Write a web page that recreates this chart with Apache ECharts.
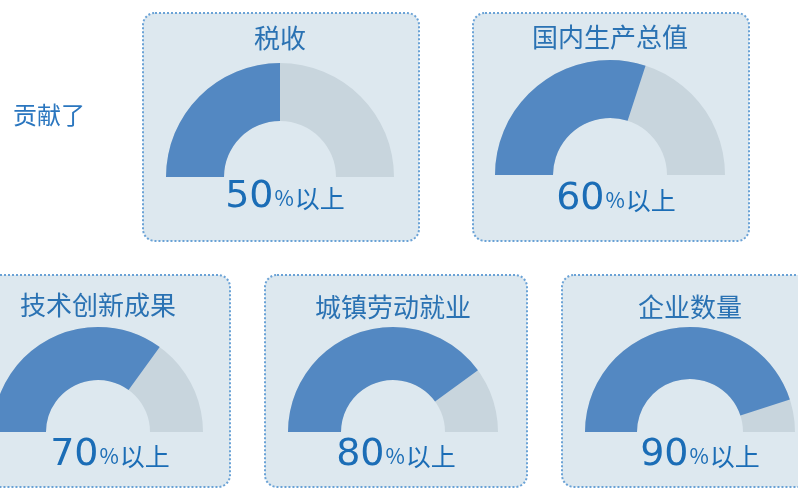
<!DOCTYPE html>
<html>
<head>
<meta charset="utf-8">
<script src="https://cdn.jsdelivr.net/npm/echarts@6/dist/echarts.min.js"></script>
<style>
  html, body { margin:0; padding:0; background:#fff; }
  #chart { width:798px; height:496px; }
</style>
</head>
<body>
<div id="chart"></div>
<script>
// ===== Data =====
const categories = ['税收', '国内生产总值', '技术创新成果', '城镇劳动就业', '企业数量'];
const shares = [50, 60, 70, 80, 90];
const suffix = '以上';
const leadText = '贡献了';

// ===== Layout (box rect, gauge center, radii, text offsets) =====
const layout = [
  { box:[143, 13, 276, 228], c:[280, 177], R:114, r:56, ty:-139, dy:22, dx:5 },
  { box:[473, 13, 276, 228], c:[610, 175], R:115, r:57, ty:-138, dy:26, dx:6 },
  { box:[-32, 275, 262, 212], c:[98, 432],  R:105, r:52, ty:-127, dy:25, dx:12 },
  { box:[265, 275, 262, 212], c:[393, 432], R:105, r:52, ty:-125, dy:25, dx:3 },
  { box:[562, 275, 262, 212], c:[690, 432], R:105, r:53, ty:-125, dy:25, dx:10 }
];

const BLUE = '#5388c2';
const GRAY = '#c8d5dd';
const TXT = '#1b6db6';
const FONT = '"Noto Sans CJK SC", "Noto Sans", sans-serif';

const chart = echarts.init(document.getElementById('chart'));

const boxes = layout.map(l => ({
  type: 'rect',
  z: 0,
  shape: { x: l.box[0], y: l.box[1], width: l.box[2], height: l.box[3], r: 12 },
  style: { fill: '#dde8ef', stroke: '#6aa2d6', lineWidth: 2, lineDash: [2, 2] }
}));

const series = categories.map((name, i) => {
  const l = layout[i];
  return {
    type: 'gauge',
    z: 2,
    center: l.c,
    radius: l.R,
    startAngle: 180,
    endAngle: 0,
    min: 0,
    max: 100,
    pointer: { show: false },
    anchor: { show: false },
    axisTick: { show: false },
    splitLine: { show: false },
    axisLabel: { show: false },
    axisLine: { lineStyle: { width: l.R - l.r, color: [[1, GRAY]] } },
    progress: { show: true, width: l.R - l.r, itemStyle: { color: BLUE } },
    title: {
      offsetCenter: [0, l.ty],
      fontSize: 26,
      fontFamily: FONT,
      color: '#2a72b3'
    },
    detail: {
      offsetCenter: [l.dx, l.dy],
      valueAnimation: false,
      formatter: v => `{n|${v}}{p|%}{t|${suffix}}`,
      rich: {
        n: { fontSize: 38, fontWeight: 'normal', fontFamily: '"DejaVu Sans", sans-serif', color: TXT, verticalAlign: 'bottom', padding: [0, 0, -2, 0] },
        p: { fontSize: 21, fontWeight: 'normal', fontFamily: FONT, color: TXT, verticalAlign: 'bottom', padding: [0, 1, 5, 1] },
        t: { fontSize: 25, fontWeight: 'normal', fontFamily: FONT, color: TXT, verticalAlign: 'bottom', padding: [0, 0, 3, 0] }
      }
    },
    data: [{ value: shares[i], name }]
  };
});

chart.setOption({
  animation: false,
  graphic: [
    ...boxes,
    {
      type: 'text',
      z: 1,
      x: 13,
      y: 115,
      style: {
        text: leadText,
        fontSize: 24,
        fontFamily: FONT,
        fill: '#2a76bf',
        verticalAlign: 'middle'
      }
    }
  ],
  series
});
</script>
</body>
</html>
